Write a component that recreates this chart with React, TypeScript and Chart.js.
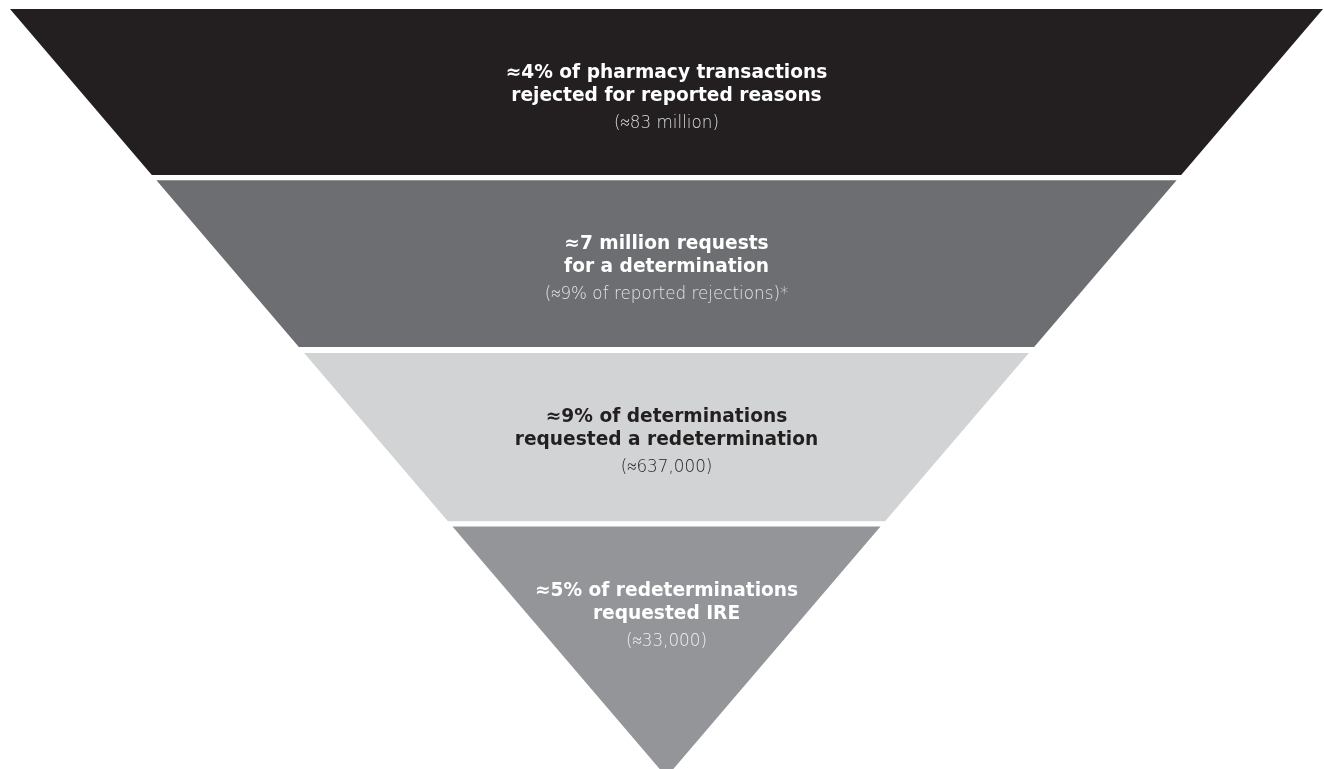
import React, { useEffect, useRef } from "react";
import { Chart, registerables } from "chart.js";

Chart.register(...registerables);

// ---- data ----
const stageTitles: string[][] = [
  ["≈4% of pharmacy transactions", "rejected for reported reasons"],
  ["≈7 million requests", "for a determination"],
  ["≈9% of determinations", "requested a redetermination"],
  ["≈5% of redeterminations", "requested IRE"],
];
const stageSubtitles: string[] = [
  "(≈83 million)",
  "(≈9% of reported rejections)*",
  "(≈637,000)",
  "(≈33,000)",
];
// funnel levels (100 = top of funnel, 0 = apex)
const bandTop: number[] = [100, 77.7, 55.2, 32.6];
const bandBottom: number[] = [78.4, 56.0, 33.3, 0];
const bandColors: string[] = ["#231f20", "#6d6e71", "#d1d3d4", "#939598"];
const titleColors: string[] = ["#ffffff", "#ffffff", "#231f20", "#ffffff"];
const subtitleColors: string[] = ["#dcdddf", "#e2e3e4", "#231f20", "#f0f0f1"];

const FUNNEL_TOP = 100;

function trapezoid(top: number, bottom: number) {
  return [
    { x: -top / FUNNEL_TOP, y: top },
    { x: top / FUNNEL_TOP, y: top },
    { x: bottom / FUNNEL_TOP, y: bottom },
    { x: -bottom / FUNNEL_TOP, y: bottom },
  ];
}

const labelPlugin = {
  id: "funnelLabels",
  afterDatasetsDraw(chart: any) {
    const { ctx, scales } = chart;
    const xs = scales.x;
    const ys = scales.y;
    const cx = xs.getPixelForValue(0);
    ctx.save();
    ctx.textAlign = "center";
    ctx.textBaseline = "alphabetic";
    stageTitles.forEach((lines, i) => {
      const top = ys.getPixelForValue(bandTop[i]);
      ctx.fillStyle = titleColors[i];
      ctx.font = "bold 18.6px 'DejaVu Sans'";
      lines.forEach((ln, j) => {
        ctx.fillText(ln, cx, top + 69 + j * 23);
      });
      ctx.fillStyle = subtitleColors[i];
      ctx.font = "200 16.8px 'DejaVu Sans'";
      ctx.fillText(stageSubtitles[i], cx, top + 69 + 23 + 27);
    });
    ctx.restore();
  },
};

export default function App() {
  const ref = useRef<HTMLCanvasElement | null>(null);
  useEffect(() => {
    if (!ref.current) return;
    const chart = new Chart(ref.current, {
      type: "line",
      data: {
        datasets: bandColors.map((c, i) => ({
          label: stageTitles[i].join(" "),
          data: trapezoid(bandTop[i], bandBottom[i]),
          backgroundColor: c,
          borderColor: c,
          borderWidth: 0,
          pointRadius: 0,
          pointHoverRadius: 0,
          tension: 0,
          fill: "shape" as any,
        })),
      },
      options: {
        animation: false,
        responsive: false,
        devicePixelRatio: 1,
        layout: { padding: { top: 9, left: 10, right: 1, bottom: 0 } },
        plugins: {
          legend: { display: false },
          tooltip: { enabled: false },
          title: { display: false },
        },
        events: [],
        scales: {
          x: { type: "linear", min: -1, max: 1, display: false },
          y: { type: "linear", min: 1.04, max: 100, display: false },
        },
      },
      plugins: [labelPlugin],
    });
    return () => chart.destroy();
  }, []);
  return (
    <div style={{ position: "absolute", left: 0, top: 0, width: 1324, height: 769, background: "#ffffff" }}>
      <canvas ref={ref} width={1324} height={769} style={{ display: "block" }} />
    </div>
  );
}
